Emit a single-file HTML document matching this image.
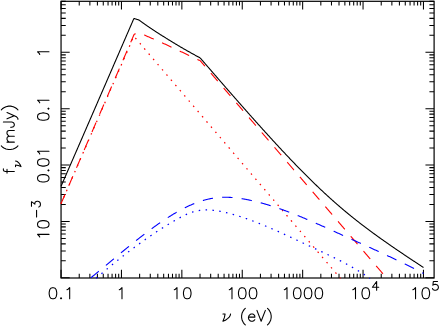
<!DOCTYPE html>
<html><head><meta charset="utf-8"><title>spectrum</title>
<style>
html,body{margin:0;padding:0;background:#fff;font-family:"Liberation Sans",sans-serif;}
svg{display:block}
</style></head>
<body>
<svg width="439" height="327" viewBox="0 0 439 327">
<rect x="0" y="0" width="439" height="327" fill="#fff"/>
<path d="M61.05,278.0 V269.70 M61.05,1.3 V9.60 M79.23,278.0 V273.70 M79.23,1.3 V5.60 M89.87,278.0 V273.70 M89.87,1.3 V5.60 M97.41,278.0 V273.70 M97.41,1.3 V5.60 M103.27,278.0 V273.70 M103.27,1.3 V5.60 M108.05,278.0 V273.70 M108.05,1.3 V5.60 M112.09,278.0 V273.70 M112.09,1.3 V5.60 M115.60,278.0 V273.70 M115.60,1.3 V5.60 M118.69,278.0 V273.70 M118.69,1.3 V5.60 M121.45,278.0 V269.70 M121.45,1.3 V9.60 M139.63,278.0 V273.70 M139.63,1.3 V5.60 M150.27,278.0 V273.70 M150.27,1.3 V5.60 M157.81,278.0 V273.70 M157.81,1.3 V5.60 M163.67,278.0 V273.70 M163.67,1.3 V5.60 M168.45,278.0 V273.70 M168.45,1.3 V5.60 M172.49,278.0 V273.70 M172.49,1.3 V5.60 M176.00,278.0 V273.70 M176.00,1.3 V5.60 M179.09,278.0 V273.70 M179.09,1.3 V5.60 M181.85,278.0 V269.70 M181.85,1.3 V9.60 M200.03,278.0 V273.70 M200.03,1.3 V5.60 M210.67,278.0 V273.70 M210.67,1.3 V5.60 M218.21,278.0 V273.70 M218.21,1.3 V5.60 M224.07,278.0 V273.70 M224.07,1.3 V5.60 M228.85,278.0 V273.70 M228.85,1.3 V5.60 M232.89,278.0 V273.70 M232.89,1.3 V5.60 M236.40,278.0 V273.70 M236.40,1.3 V5.60 M239.49,278.0 V273.70 M239.49,1.3 V5.60 M242.25,278.0 V269.70 M242.25,1.3 V9.60 M260.43,278.0 V273.70 M260.43,1.3 V5.60 M271.07,278.0 V273.70 M271.07,1.3 V5.60 M278.61,278.0 V273.70 M278.61,1.3 V5.60 M284.47,278.0 V273.70 M284.47,1.3 V5.60 M289.25,278.0 V273.70 M289.25,1.3 V5.60 M293.29,278.0 V273.70 M293.29,1.3 V5.60 M296.80,278.0 V273.70 M296.80,1.3 V5.60 M299.89,278.0 V273.70 M299.89,1.3 V5.60 M302.65,278.0 V269.70 M302.65,1.3 V9.60 M320.83,278.0 V273.70 M320.83,1.3 V5.60 M331.47,278.0 V273.70 M331.47,1.3 V5.60 M339.01,278.0 V273.70 M339.01,1.3 V5.60 M344.87,278.0 V273.70 M344.87,1.3 V5.60 M349.65,278.0 V273.70 M349.65,1.3 V5.60 M353.69,278.0 V273.70 M353.69,1.3 V5.60 M357.20,278.0 V273.70 M357.20,1.3 V5.60 M360.29,278.0 V273.70 M360.29,1.3 V5.60 M363.05,278.0 V269.70 M363.05,1.3 V9.60 M381.23,278.0 V273.70 M381.23,1.3 V5.60 M391.87,278.0 V273.70 M391.87,1.3 V5.60 M399.41,278.0 V273.70 M399.41,1.3 V5.60 M405.27,278.0 V273.70 M405.27,1.3 V5.60 M410.05,278.0 V273.70 M410.05,1.3 V5.60 M414.09,278.0 V273.70 M414.09,1.3 V5.60 M417.60,278.0 V273.70 M417.60,1.3 V5.60 M420.69,278.0 V273.70 M420.69,1.3 V5.60 M423.45,278.0 V269.70 M423.45,1.3 V9.60 M61.05,277.80 H69.70 M434.1,277.80 H425.45 M61.05,260.83 H65.75 M434.1,260.83 H429.40 M61.05,250.90 H65.75 M434.1,250.90 H429.40 M61.05,243.86 H65.75 M434.1,243.86 H429.40 M61.05,238.40 H65.75 M434.1,238.40 H429.40 M61.05,233.93 H65.75 M434.1,233.93 H429.40 M61.05,230.16 H65.75 M434.1,230.16 H429.40 M61.05,226.89 H65.75 M434.1,226.89 H429.40 M61.05,224.00 H65.75 M434.1,224.00 H429.40 M61.05,221.43 H69.70 M434.1,221.43 H425.45 M61.05,204.45 H65.75 M434.1,204.45 H429.40 M61.05,194.53 H65.75 M434.1,194.53 H429.40 M61.05,187.48 H65.75 M434.1,187.48 H429.40 M61.05,182.02 H65.75 M434.1,182.02 H429.40 M61.05,177.56 H65.75 M434.1,177.56 H429.40 M61.05,173.78 H65.75 M434.1,173.78 H429.40 M61.05,170.51 H65.75 M434.1,170.51 H429.40 M61.05,167.63 H65.75 M434.1,167.63 H429.40 M61.05,165.05 H69.70 M434.1,165.05 H425.45 M61.05,148.08 H65.75 M434.1,148.08 H429.40 M61.05,138.15 H65.75 M434.1,138.15 H429.40 M61.05,131.11 H65.75 M434.1,131.11 H429.40 M61.05,125.65 H65.75 M434.1,125.65 H429.40 M61.05,121.18 H65.75 M434.1,121.18 H429.40 M61.05,117.41 H65.75 M434.1,117.41 H429.40 M61.05,114.14 H65.75 M434.1,114.14 H429.40 M61.05,111.25 H65.75 M434.1,111.25 H429.40 M61.05,108.67 H69.70 M434.1,108.67 H425.45 M61.05,91.70 H65.75 M434.1,91.70 H429.40 M61.05,81.78 H65.75 M434.1,81.78 H429.40 M61.05,74.73 H65.75 M434.1,74.73 H429.40 M61.05,69.27 H65.75 M434.1,69.27 H429.40 M61.05,64.81 H65.75 M434.1,64.81 H429.40 M61.05,61.03 H65.75 M434.1,61.03 H429.40 M61.05,57.76 H65.75 M434.1,57.76 H429.40 M61.05,54.88 H65.75 M434.1,54.88 H429.40 M61.05,52.30 H69.70 M434.1,52.30 H425.45 M61.05,35.33 H65.75 M434.1,35.33 H429.40 M61.05,25.40 H65.75 M434.1,25.40 H429.40 M61.05,18.36 H65.75 M434.1,18.36 H429.40 M61.05,12.90 H65.75 M434.1,12.90 H429.40 M61.05,8.43 H65.75 M434.1,8.43 H429.40 M61.05,4.66 H65.75 M434.1,4.66 H429.40 M61.05,1.39 H65.75 M434.1,1.39 H429.40" stroke="#000" stroke-width="1.05" fill="none"/>
<rect x="61.05" y="1.3" width="373.05" height="276.70" stroke="#000" stroke-width="1.2" fill="none"/>
<path d="M61.00,186.35 L61.50,185.20 L62.00,184.06 L62.50,182.92 L63.00,181.77 L63.50,180.63 L64.00,179.49 L64.50,178.34 L65.00,177.20 L65.50,176.05 L66.00,174.91 L66.50,173.76 L67.00,172.61 L67.50,171.47 L68.00,170.32 L68.50,169.18 L69.00,168.03 L69.50,166.88 L70.00,165.73 L70.50,164.59 L71.00,163.44 L71.50,162.29 L72.00,161.14 L72.50,160.00 L73.00,158.85 L73.50,157.70 L74.00,156.55 L74.50,155.40 L75.00,154.25 L75.50,153.10 L76.00,151.96 L76.50,150.81 L77.00,149.66 L77.50,148.51 L78.00,147.36 L78.50,146.21 L79.00,145.06 L79.50,143.91 L80.00,142.76 L80.50,141.61 L81.00,140.46 L81.50,139.31 L82.00,138.16 L82.50,137.01 L83.00,135.85 L83.50,134.70 L84.00,133.55 L84.50,132.40 L85.00,131.25 L85.50,130.10 L86.00,128.95 L86.50,127.80 L87.00,126.65 L87.50,125.49 L88.00,124.34 L88.50,123.19 L89.00,122.04 L89.50,120.89 L90.00,119.73 L90.50,118.58 L91.00,117.43 L91.50,116.28 L92.00,115.13 L92.50,113.97 L93.00,112.82 L93.50,111.67 L94.00,110.52 L94.50,109.37 L95.00,108.21 L95.50,107.06 L96.00,105.91 L96.50,104.76 L97.00,103.60 L97.50,102.45 L98.00,101.30 L98.50,100.14 L99.00,98.99 L99.50,97.84 L100.00,96.69 L100.50,95.53 L101.00,94.38 L101.50,93.23 L102.00,92.08 L102.50,90.92 L103.00,89.77 L103.50,88.62 L104.00,87.46 L104.50,86.31 L105.00,85.16 L105.50,84.00 L106.00,82.85 L106.50,81.70 L107.00,80.54 L107.50,79.39 L108.00,78.24 L108.50,77.08 L109.00,75.93 L109.50,74.78 L110.00,73.62 L110.50,72.47 L111.00,71.32 L111.50,70.16 L112.00,69.01 L112.50,67.86 L113.00,66.70 L113.50,65.55 L114.00,64.40 L114.50,63.24 L115.00,62.09 L115.50,60.94 L116.00,59.78 L116.50,58.63 L117.00,57.48 L117.50,56.32 L118.00,55.17 L118.50,54.02 L119.00,52.86 L119.50,51.71 L120.00,50.55 L120.50,49.40 L121.00,48.25 L121.50,47.09 L122.00,45.94 L122.50,44.79 L123.00,43.63 L123.50,42.48 L124.00,41.33 L124.50,40.17 L125.00,39.02 L125.50,37.86 L126.00,36.71 L126.50,35.56 L127.00,34.40 L127.50,33.25 L128.00,32.10 L128.50,30.94 L129.00,29.79 L129.50,28.63 L130.00,27.48 L130.50,26.33 L131.00,25.17 L131.50,24.02 L132.00,22.87 L132.50,21.71 L133.00,20.56 L133.50,19.40 L134.00,18.55 L134.50,18.54 L135.00,18.73 L135.50,18.91 L136.00,19.09 L136.50,19.26 L137.00,19.43 L137.50,19.59 L138.00,19.75 L138.50,19.90 L139.00,20.05 L139.50,20.41 L140.00,20.78 L140.50,21.14 L141.00,21.50 L141.50,21.86 L142.00,22.22 L142.50,22.58 L143.00,22.94 L143.50,23.30 L144.00,23.65 L144.50,24.00 L145.00,24.36 L145.50,24.71 L146.00,25.06 L146.50,25.40 L147.00,25.75 L147.50,26.10 L148.00,26.44 L148.50,26.78 L149.00,27.13 L149.50,27.47 L150.00,27.81 L150.50,28.15 L151.00,28.48 L151.50,28.82 L152.00,29.15 L152.50,29.49 L153.00,29.82 L153.50,30.15 L154.00,30.48 L154.50,30.81 L155.00,31.14 L155.50,31.46 L156.00,31.79 L156.50,32.11 L157.00,32.44 L157.50,32.76 L158.00,33.08 L158.50,33.40 L159.00,33.72 L159.50,34.03 L160.00,34.35 L160.50,34.67 L161.00,34.98 L161.50,35.29 L162.00,35.61 L162.50,35.92 L163.00,36.23 L163.50,36.54 L164.00,36.84 L164.50,37.15 L165.00,37.46 L165.50,37.77 L166.00,38.09 L166.50,38.41 L167.00,38.72 L167.50,39.04 L168.00,39.35 L168.50,39.66 L169.00,39.97 L169.50,40.28 L170.00,40.59 L170.50,40.90 L171.00,41.21 L171.50,41.52 L172.00,41.82 L172.50,42.13 L173.00,42.43 L173.50,42.74 L174.00,43.04 L174.50,43.34 L175.00,43.64 L175.50,43.94 L176.00,44.24 L176.50,44.54 L177.00,44.84 L177.50,45.14 L178.00,45.44 L178.50,45.73 L179.00,46.03 L179.50,46.32 L180.00,46.61 L180.50,46.91 L181.00,47.20 L181.50,47.49 L182.00,47.78 L182.50,48.07 L183.00,48.36 L183.50,48.65 L184.00,48.94 L184.50,49.23 L185.00,49.51 L185.50,49.80 L186.00,50.09 L186.50,50.37 L187.00,50.66 L187.50,50.94 L188.00,51.22 L188.50,51.50 L189.00,51.79 L189.50,52.07 L190.00,52.35 L190.50,52.63 L191.00,52.91 L191.50,53.19 L192.00,53.46 L192.50,53.74 L193.00,54.02 L193.50,54.30 L194.00,54.57 L194.50,54.85 L195.00,55.12 L195.50,55.40 L196.00,55.67 L196.50,55.94 L197.00,56.22 L197.50,56.49 L198.00,56.76 L198.50,57.03 L199.00,57.30 L199.50,57.57 L200.00,57.84 L200.50,58.30 L201.00,58.88 L201.50,59.46 L202.00,60.04 L202.50,60.62 L203.00,61.20 L203.50,61.78 L204.00,62.36 L204.50,62.94 L205.00,63.51 L205.50,64.09 L206.00,64.67 L206.50,65.25 L207.00,65.83 L207.50,66.41 L208.00,66.99 L208.50,67.57 L209.00,68.14 L209.50,68.72 L210.00,69.30 L210.50,69.88 L211.00,70.46 L211.50,71.03 L212.00,71.61 L212.50,72.19 L213.00,72.77 L213.50,73.34 L214.00,73.92 L214.50,74.50 L215.00,75.08 L215.50,75.65 L216.00,76.23 L216.50,76.81 L217.00,77.38 L217.50,77.96 L218.00,78.54 L218.50,79.11 L219.00,79.69 L219.50,80.26 L220.00,80.84 L220.50,81.41 L221.00,81.99 L221.50,82.57 L222.00,83.14 L222.50,83.72 L223.00,84.29 L223.50,84.87 L224.00,85.44 L224.50,86.01 L225.00,86.59 L225.50,87.16 L226.00,87.74 L226.50,88.31 L227.00,88.88 L227.50,89.46 L228.00,90.03 L228.50,90.60 L229.00,91.18 L229.50,91.75 L230.00,92.32 L230.50,92.89 L231.00,93.47 L231.50,94.04 L232.00,94.61 L232.50,95.18 L233.00,95.75 L233.50,96.32 L234.00,96.90 L234.50,97.47 L235.00,98.04 L235.50,98.61 L236.00,99.18 L236.50,99.75 L237.00,100.32 L237.50,100.89 L238.00,101.46 L238.50,102.03 L239.00,102.60 L239.50,103.16 L240.00,103.73 L240.50,104.30 L241.00,104.87 L241.50,105.44 L242.00,106.00 L242.50,106.57 L243.00,107.14 L243.50,107.71 L244.00,108.27 L244.50,108.84 L245.00,109.40 L245.50,109.97 L246.00,110.54 L246.50,111.10 L247.00,111.67 L247.50,112.23 L248.00,112.79 L248.50,113.36 L249.00,113.92 L249.50,114.49 L250.00,115.05 L250.50,115.61 L251.00,116.17 L251.50,116.74 L252.00,117.30 L252.50,117.86 L253.00,118.42 L253.50,118.98 L254.00,119.54 L254.50,120.10 L255.00,120.66 L255.50,121.22 L256.00,121.78 L256.50,122.34 L257.00,122.90 L257.50,123.46 L258.00,124.02 L258.50,124.57 L259.00,125.13 L259.50,125.69 L260.00,126.24 L260.50,126.80 L261.00,127.36 L261.50,127.91 L262.00,128.47 L262.50,129.02 L263.00,129.58 L263.50,130.13 L264.00,130.68 L264.50,131.24 L265.00,131.79 L265.50,132.34 L266.00,132.89 L266.50,133.44 L267.00,133.99 L267.50,134.54 L268.00,135.09 L268.50,135.64 L269.00,136.19 L269.50,136.74 L270.00,137.29 L270.50,137.84 L271.00,138.38 L271.50,138.93 L272.00,139.48 L272.50,140.02 L273.00,140.57 L273.50,141.11 L274.00,141.66 L274.50,142.20 L275.00,142.74 L275.50,143.29 L276.00,143.83 L276.50,144.37 L277.00,144.91 L277.50,145.45 L278.00,145.99 L278.50,146.53 L279.00,147.07 L279.50,147.61 L280.00,148.15 L280.50,148.68 L281.00,149.22 L281.50,149.76 L282.00,150.29 L282.50,150.83 L283.00,151.36 L283.50,151.90 L284.00,152.43 L284.50,152.96 L285.00,153.49 L285.50,154.02 L286.00,154.56 L286.50,155.09 L287.00,155.61 L287.50,156.14 L288.00,156.67 L288.50,157.20 L289.00,157.73 L289.50,158.25 L290.00,158.78 L290.50,159.30 L291.00,159.83 L291.50,160.35 L292.00,160.87 L292.50,161.39 L293.00,161.92 L293.50,162.44 L294.00,162.96 L294.50,163.48 L295.00,163.99 L295.50,164.51 L296.00,165.03 L296.50,165.55 L297.00,166.06 L297.50,166.58 L298.00,167.09 L298.50,167.60 L299.00,168.12 L299.50,168.63 L300.00,169.14 L300.50,169.65 L301.00,170.16 L301.50,170.66 L302.00,171.17 L302.50,171.68 L303.00,172.19 L303.50,172.69 L304.00,173.19 L304.50,173.70 L305.00,174.20 L305.50,174.70 L306.00,175.20 L306.50,175.70 L307.00,176.20 L307.50,176.70 L308.00,177.20 L308.50,177.69 L309.00,178.19 L309.50,178.68 L310.00,179.18 L310.50,179.67 L311.00,180.16 L311.50,180.65 L312.00,181.14 L312.50,181.63 L313.00,182.12 L313.50,182.60 L314.00,183.09 L314.50,183.57 L315.00,184.06 L315.50,184.54 L316.00,185.02 L316.50,185.50 L317.00,185.98 L317.50,186.46 L318.00,186.94 L318.50,187.42 L319.00,187.89 L319.50,188.37 L320.00,188.84 L320.50,189.31 L321.00,189.78 L321.50,190.25 L322.00,190.72 L322.50,191.19 L323.00,191.66 L323.50,192.13 L324.00,192.59 L324.50,193.06 L325.00,193.52 L325.50,193.98 L326.00,194.44 L326.50,194.90 L327.00,195.36 L327.50,195.82 L328.00,196.27 L328.50,196.73 L329.00,197.18 L329.50,197.64 L330.00,198.09 L330.50,198.54 L331.00,198.99 L331.50,199.44 L332.00,199.89 L332.50,200.33 L333.00,200.78 L333.50,201.23 L334.00,201.67 L334.50,202.11 L335.00,202.55 L335.50,202.99 L336.00,203.43 L336.50,203.87 L337.00,204.31 L337.50,204.74 L338.00,205.17 L338.50,205.61 L339.00,206.04 L339.50,206.47 L340.00,206.90 L340.50,207.33 L341.00,207.76 L341.50,208.18 L342.00,208.61 L342.50,209.03 L343.00,209.46 L343.50,209.88 L344.00,210.30 L344.50,210.72 L345.00,211.14 L345.50,211.55 L346.00,211.97 L346.50,212.39 L347.00,212.80 L347.50,213.21 L348.00,213.63 L348.50,214.04 L349.00,214.45 L349.50,214.85 L350.00,215.26 L350.50,215.67 L351.00,216.07 L351.50,216.48 L352.00,216.88 L352.50,217.28 L353.00,217.68 L353.50,218.08 L354.00,218.48 L354.50,218.88 L355.00,219.28 L355.50,219.68 L356.00,220.07 L356.50,220.47 L357.00,220.86 L357.50,221.25 L358.00,221.64 L358.50,222.03 L359.00,222.42 L359.50,222.81 L360.00,223.20 L360.50,223.58 L361.00,223.97 L361.50,224.35 L362.00,224.74 L362.50,225.12 L363.00,225.50 L363.50,225.89 L364.00,226.27 L364.50,226.65 L365.00,227.02 L365.50,227.40 L366.00,227.78 L366.50,228.16 L367.00,228.53 L367.50,228.91 L368.00,229.28 L368.50,229.65 L369.00,230.03 L369.50,230.40 L370.00,230.77 L370.50,231.14 L371.00,231.51 L371.50,231.88 L372.00,232.24 L372.50,232.61 L373.00,232.98 L373.50,233.34 L374.00,233.71 L374.50,234.07 L375.00,234.43 L375.50,234.80 L376.00,235.16 L376.50,235.52 L377.00,235.88 L377.50,236.24 L378.00,236.60 L378.50,236.96 L379.00,237.32 L379.50,237.68 L380.00,238.03 L380.50,238.39 L381.00,238.75 L381.50,239.10 L382.00,239.46 L382.50,239.81 L383.00,240.16 L383.50,240.52 L384.00,240.87 L384.50,241.22 L385.00,241.57 L385.50,241.92 L386.00,242.27 L386.50,242.62 L387.00,242.97 L387.50,243.32 L388.00,243.67 L388.50,244.02 L389.00,244.37 L389.50,244.71 L390.00,245.06 L390.50,245.41 L391.00,245.75 L391.50,246.10 L392.00,246.44 L392.50,246.78 L393.00,247.13 L393.50,247.47 L394.00,247.81 L394.50,248.16 L395.00,248.50 L395.50,248.84 L396.00,249.18 L396.50,249.52 L397.00,249.86 L397.50,250.20 L398.00,250.54 L398.50,250.88 L399.00,251.22 L399.50,251.56 L400.00,251.90 L400.50,252.24 L401.00,252.57 L401.50,252.91 L402.00,253.25 L402.50,253.58 L403.00,253.92 L403.50,254.26 L404.00,254.59 L404.50,254.93 L405.00,255.26 L405.50,255.60 L406.00,255.93 L406.50,256.27 L407.00,256.60 L407.50,256.93 L408.00,257.27 L408.50,257.60 L409.00,257.93 L409.50,258.27 L410.00,258.60 L410.50,258.93 L411.00,259.26 L411.50,259.59 L412.00,259.92 L412.50,260.26 L413.00,260.59 L413.50,260.92 L414.00,261.25 L414.50,261.58 L415.00,261.91 L415.50,262.24 L416.00,262.57 L416.50,262.90 L417.00,263.23 L417.50,263.56 L418.00,263.89 L418.50,264.22 L419.00,264.55 L419.50,264.87 L420.00,265.20 L420.50,265.53 L421.00,265.86 L421.50,266.19 L422.00,266.52 L422.50,266.84 L423.00,267.17 L423.50,267.50" stroke="#000" stroke-width="1.1" fill="none" stroke-linejoin="miter"/>
<path d="M61.00,203.70 L61.50,202.54 L62.00,201.38 L62.50,200.23 L63.00,199.07 L63.50,197.91 L64.00,196.75 L64.50,195.60 L65.00,194.44 L65.50,193.28 L66.00,192.12 L66.50,190.96 L67.00,189.81 L67.50,188.65 L68.00,187.49 L68.50,186.33 L69.00,185.18 L69.50,184.02 L70.00,182.86 L70.50,181.70 L71.00,180.54 L71.50,179.39 L72.00,178.23 L72.50,177.07 L73.00,175.91 L73.50,174.76 L74.00,173.60 L74.50,172.44 L75.00,171.28 L75.50,170.12 L76.00,168.97 L76.50,167.81 L77.00,166.65 L77.50,165.49 L78.00,164.34 L78.50,163.18 L79.00,162.02 L79.50,160.86 L80.00,159.70 L80.50,158.55 L81.00,157.39 L81.50,156.23 L82.00,155.07 L82.50,153.92 L83.00,152.76 L83.50,151.60 L84.00,150.44 L84.50,149.28 L85.00,148.13 L85.50,146.97 L86.00,145.81 L86.50,144.65 L87.00,143.50 L87.50,142.34 L88.00,141.18 L88.50,140.02 L89.00,138.86 L89.50,137.71 L90.00,136.55 L90.50,135.39 L91.00,134.23 L91.50,133.07 L92.00,131.92 L92.50,130.76 L93.00,129.60 L93.50,128.44 L94.00,127.29 L94.50,126.13 L95.00,124.97 L95.50,123.81 L96.00,122.65 L96.50,121.50 L97.00,120.34 L97.50,119.18 L98.00,118.02 L98.50,116.87 L99.00,115.71 L99.50,114.55 L100.00,113.39 L100.50,112.23 L101.00,111.08 L101.50,109.92 L102.00,108.76 L102.50,107.60 L103.00,106.45 L103.50,105.29 L104.00,104.13 L104.50,102.97 L105.00,101.81 L105.50,100.66 L106.00,99.50 L106.50,98.34 L107.00,97.18 L107.50,96.03 L108.00,94.87 L108.50,93.71 L109.00,92.55 L109.50,91.39 L110.00,90.24 L110.50,89.08 L111.00,87.92 L111.50,86.76 L112.00,85.61 L112.50,84.45 L113.00,83.29 L113.50,82.13 L114.00,80.97 L114.50,79.82 L115.00,78.66 L115.50,77.50 L116.00,76.34 L116.50,75.19 L117.00,74.03 L117.50,72.87 L118.00,71.71 L118.50,70.55 L119.00,69.40 L119.50,68.24 L120.00,67.08 L120.50,65.92 L121.00,64.77 L121.50,63.61 L122.00,62.45 L122.50,61.29 L123.00,60.13 L123.50,58.98 L124.00,57.82 L124.50,56.66 L125.00,55.50 L125.50,54.35 L126.00,53.19 L126.50,52.03 L127.00,50.87 L127.50,49.71 L128.00,48.56 L128.50,47.40 L129.00,46.24 L129.50,45.08 L130.00,43.93 L130.50,42.77 L131.00,41.61 L131.50,40.45 L132.00,39.29 L132.50,38.14 L133.00,36.98 L133.50,35.82 L134.00,34.66 L134.20,34.20 L134.50,34.11 L135.00,33.95 L135.50,33.79 L136.00,33.64 L136.50,33.48 L137.00,33.33 L137.50,33.17 L138.00,33.01 L138.50,32.86 L139.00,32.70 L139.50,32.92 L140.00,33.14 L140.50,33.36 L141.00,33.58 L141.50,33.80 L142.00,34.02 L142.50,34.23 L143.00,34.45 L143.50,34.67 L144.00,34.89 L144.50,35.11 L145.00,35.33 L145.50,35.55 L146.00,35.77 L146.50,35.99 L147.00,36.21 L147.50,36.43 L148.00,36.65 L148.50,36.87 L149.00,37.08 L149.50,37.30 L150.00,37.52 L150.50,37.74 L151.00,37.96 L151.50,38.18 L152.00,38.40 L152.50,38.62 L153.00,38.84 L153.50,39.06 L154.00,39.28 L154.50,39.50 L155.00,39.72 L155.50,39.93 L156.00,40.15 L156.50,40.37 L157.00,40.59 L157.50,40.81 L158.00,41.03 L158.50,41.25 L159.00,41.47 L159.50,41.69 L160.00,41.91 L160.50,42.13 L161.00,42.35 L161.50,42.57 L162.00,42.78 L162.50,43.00 L163.00,43.22 L163.50,43.44 L164.00,43.66 L164.50,43.88 L165.00,44.10 L165.50,44.34 L166.00,44.57 L166.50,44.81 L167.00,45.04 L167.50,45.28 L168.00,45.51 L168.50,45.75 L169.00,45.99 L169.50,46.22 L170.00,46.46 L170.50,46.69 L171.00,46.93 L171.50,47.17 L172.00,47.40 L172.50,47.64 L173.00,47.87 L173.50,48.11 L174.00,48.34 L174.50,48.58 L175.00,48.82 L175.50,49.05 L176.00,49.29 L176.50,49.52 L177.00,49.76 L177.50,49.99 L178.00,50.23 L178.50,50.47 L179.00,50.70 L179.50,50.94 L180.00,51.17 L180.50,51.41 L181.00,51.65 L181.50,51.88 L182.00,52.12 L182.50,52.35 L183.00,52.59 L183.50,52.82 L184.00,53.06 L184.50,53.30 L185.00,53.53 L185.50,53.77 L186.00,54.00 L186.50,54.24 L187.00,54.48 L187.50,54.71 L188.00,54.95 L188.50,55.18 L189.00,55.42 L189.50,55.65 L190.00,55.89 L190.50,56.13 L191.00,56.36 L191.50,56.60 L192.00,56.83 L192.50,57.07 L193.00,57.30 L193.50,57.54 L194.00,57.78 L194.50,58.01 L195.00,58.25 L195.50,58.48 L196.00,58.72 L196.50,58.96 L197.00,59.19 L197.50,59.43 L198.00,59.66 L198.50,59.90 L199.00,60.13 L199.50,60.37 L200.00,60.61 L200.20,60.70 L200.50,61.05 L201.00,61.63 L201.50,62.22 L202.00,62.80 L202.50,63.38 L203.00,63.96 L203.50,64.55 L204.00,65.13 L204.50,65.71 L205.00,66.30 L205.50,66.88 L206.00,67.46 L206.50,68.05 L207.00,68.63 L207.50,69.21 L208.00,69.79 L208.50,70.38 L209.00,70.96 L209.50,71.54 L210.00,72.13 L210.50,72.71 L211.00,73.29 L211.50,73.88 L212.00,74.46 L212.50,75.04 L213.00,75.62 L213.50,76.21 L214.00,76.79 L214.50,77.37 L215.00,77.96 L215.50,78.54 L216.00,79.12 L216.50,79.71 L217.00,80.29 L217.50,80.87 L218.00,81.45 L218.50,82.04 L219.00,82.62 L219.50,83.20 L220.00,83.79 L220.50,84.37 L221.00,84.95 L221.50,85.54 L222.00,86.12 L222.50,86.70 L223.00,87.28 L223.50,87.87 L224.00,88.45 L224.50,89.03 L225.00,89.62 L225.50,90.20 L226.00,90.78 L226.50,91.37 L227.00,91.95 L227.50,92.53 L228.00,93.11 L228.50,93.70 L229.00,94.28 L229.50,94.86 L230.00,95.45 L230.50,96.03 L231.00,96.61 L231.50,97.20 L232.00,97.78 L232.50,98.36 L233.00,98.94 L233.50,99.53 L234.00,100.11 L234.50,100.69 L235.00,101.28 L235.50,101.86 L236.00,102.44 L236.50,103.03 L237.00,103.61 L237.50,104.19 L238.00,104.77 L238.50,105.36 L239.00,105.94 L239.50,106.52 L240.00,107.11 L240.50,107.69 L241.00,108.27 L241.50,108.86 L242.00,109.44 L242.50,110.02 L243.00,110.60 L243.50,111.19 L244.00,111.77 L244.50,112.35 L245.00,112.94 L245.50,113.52 L246.00,114.10 L246.50,114.69 L247.00,115.27 L247.50,115.85 L248.00,116.43 L248.50,117.02 L249.00,117.60 L249.50,118.18 L250.00,118.77 L250.50,119.35 L251.00,119.93 L251.50,120.52 L252.00,121.10 L252.50,121.68 L253.00,122.26 L253.50,122.85 L254.00,123.43 L254.50,124.01 L255.00,124.60 L255.50,125.18 L256.00,125.76 L256.50,126.35 L257.00,126.93 L257.50,127.51 L258.00,128.09 L258.50,128.68 L259.00,129.26 L259.50,129.84 L260.00,130.43 L260.50,131.01 L261.00,131.59 L261.50,132.18 L262.00,132.76 L262.50,133.34 L263.00,133.92 L263.50,134.51 L264.00,135.09 L264.50,135.67 L265.00,136.26 L265.50,136.84 L266.00,137.42 L266.50,138.01 L267.00,138.59 L267.50,139.17 L268.00,139.75 L268.50,140.34 L269.00,140.92 L269.50,141.50 L270.00,142.09 L270.50,142.67 L271.00,143.25 L271.50,143.84 L272.00,144.42 L272.50,145.00 L273.00,145.58 L273.50,146.17 L274.00,146.75 L274.50,147.33 L275.00,147.92 L275.50,148.50 L276.00,149.08 L276.50,149.67 L277.00,150.25 L277.50,150.83 L278.00,151.41 L278.50,152.00 L279.00,152.58 L279.50,153.16 L280.00,153.75 L280.50,154.33 L281.00,154.91 L281.50,155.50 L282.00,156.08 L282.50,156.66 L283.00,157.24 L283.50,157.83 L284.00,158.41 L284.50,158.99 L285.00,159.58 L285.50,160.16 L286.00,160.74 L286.50,161.33 L287.00,161.91 L287.50,162.49 L288.00,163.07 L288.50,163.66 L289.00,164.24 L289.50,164.82 L290.00,165.41 L290.50,165.99 L291.00,166.57 L291.50,167.16 L292.00,167.74 L292.50,168.32 L293.00,168.90 L293.50,169.49 L294.00,170.07 L294.50,170.65 L295.00,171.24 L295.50,171.82 L296.00,172.40 L296.50,172.99 L297.00,173.57 L297.50,174.15 L298.00,174.73 L298.50,175.32 L299.00,175.90 L299.50,176.48 L300.00,177.07 L300.50,177.65 L301.00,178.23 L301.50,178.82 L302.00,179.40 L302.50,179.98 L303.00,180.56 L303.50,181.15 L304.00,181.73 L304.50,182.31 L305.00,182.90 L305.50,183.48 L306.00,184.06 L306.50,184.65 L307.00,185.23 L307.50,185.81 L308.00,186.39 L308.50,186.98 L309.00,187.56 L309.50,188.14 L310.00,188.73 L310.50,189.31 L311.00,189.89 L311.50,190.48 L312.00,191.06 L312.50,191.64 L313.00,192.22 L313.50,192.81 L314.00,193.39 L314.50,193.97 L315.00,194.56 L315.50,195.14 L316.00,195.72 L316.50,196.31 L317.00,196.89 L317.50,197.47 L318.00,198.05 L318.50,198.64 L319.00,199.22 L319.50,199.80 L320.00,200.39 L320.50,200.97 L321.00,201.55 L321.50,202.14 L322.00,202.72 L322.50,203.30 L323.00,203.88 L323.50,204.47 L324.00,205.05 L324.50,205.63 L325.00,206.22 L325.50,206.80 L326.00,207.38 L326.50,207.97 L327.00,208.55 L327.50,209.13 L328.00,209.71 L328.50,210.30 L329.00,210.88 L329.50,211.46 L330.00,212.05 L330.50,212.63 L331.00,213.21 L331.50,213.80 L332.00,214.38 L332.50,214.96 L333.00,215.54 L333.50,216.13 L334.00,216.71 L334.50,217.29 L335.00,217.88 L335.50,218.46 L336.00,219.04 L336.50,219.63 L337.00,220.21 L337.50,220.79 L338.00,221.37 L338.50,221.96 L339.00,222.54 L339.50,223.12 L340.00,223.71 L340.50,224.29 L341.00,224.87 L341.50,225.46 L342.00,226.04 L342.50,226.62 L343.00,227.20 L343.50,227.79 L344.00,228.37 L344.50,228.95 L345.00,229.54 L345.50,230.12 L346.00,230.70 L346.50,231.29 L347.00,231.87 L347.50,232.45 L348.00,233.03 L348.50,233.62 L349.00,234.20 L349.50,234.78 L350.00,235.37 L350.50,235.95 L351.00,236.53 L351.50,237.12 L352.00,237.70 L352.50,238.28 L353.00,238.86 L353.50,239.45 L354.00,240.03 L354.50,240.61 L355.00,241.20 L355.50,241.78 L356.00,242.36 L356.50,242.95 L357.00,243.53 L357.50,244.11 L358.00,244.69 L358.50,245.28 L359.00,245.86 L359.50,246.44 L360.00,247.03 L360.50,247.61 L361.00,248.19 L361.50,248.78 L362.00,249.36 L362.50,249.94 L363.00,250.52 L363.50,251.11 L364.00,251.69 L364.50,252.27 L365.00,252.86 L365.50,253.44 L366.00,254.02 L366.50,254.61 L367.00,255.19 L367.50,255.77 L368.00,256.35 L368.50,256.94 L369.00,257.52 L369.50,258.10 L370.00,258.69 L370.50,259.27 L371.00,259.85 L371.50,260.44 L372.00,261.02 L372.50,261.60 L373.00,262.18 L373.50,262.77 L374.00,263.35 L374.50,263.93 L375.00,264.52 L375.50,265.10 L376.00,265.68 L376.50,266.27 L377.00,266.85 L377.50,267.43 L378.00,268.01 L378.50,268.60 L379.00,269.18 L379.50,269.76 L380.00,270.35 L380.50,270.93 L381.00,271.51 L381.50,272.10 L382.00,272.68 L382.50,273.26 L383.00,273.84 L383.50,274.43 L384.00,275.01 L384.50,275.59 L385.00,276.18 L385.50,276.76 L386.00,277.34 L386.50,277.93 L386.91,278.40" stroke="#f00" stroke-width="1.1" fill="none" stroke-dasharray="10.4 9.13" stroke-linejoin="round"/>
<path d="M61.00,203.70 L61.50,202.55 L62.00,201.40 L62.50,200.25 L63.00,199.10 L63.50,197.95 L64.00,196.80 L64.50,195.65 L65.00,194.50 L65.50,193.35 L66.00,192.20 L66.50,191.05 L67.00,189.90 L67.50,188.75 L68.00,187.60 L68.50,186.45 L69.00,185.30 L69.50,184.15 L70.00,183.00 L70.50,181.85 L71.00,180.70 L71.50,179.55 L72.00,178.40 L72.50,177.25 L73.00,176.10 L73.50,174.95 L74.00,173.80 L74.50,172.65 L75.00,171.50 L75.50,170.35 L76.00,169.20 L76.50,168.05 L77.00,166.90 L77.50,165.75 L78.00,164.60 L78.50,163.45 L79.00,162.30 L79.50,161.15 L80.00,160.00 L80.50,158.85 L81.00,157.70 L81.50,156.55 L82.00,155.40 L82.50,154.25 L83.00,153.10 L83.50,151.95 L84.00,150.80 L84.50,149.65 L85.00,148.50 L85.50,147.35 L86.00,146.20 L86.50,145.05 L87.00,143.90 L87.50,142.75 L88.00,141.60 L88.50,140.45 L89.00,139.30 L89.50,138.15 L90.00,137.00 L90.50,135.85 L91.00,134.70 L91.50,133.55 L92.00,132.40 L92.50,131.25 L93.00,130.10 L93.50,128.95 L94.00,127.80 L94.50,126.65 L95.00,125.50 L95.50,124.35 L96.00,123.20 L96.50,122.05 L97.00,120.90 L97.50,119.75 L98.00,118.60 L98.50,117.45 L99.00,116.30 L99.50,115.15 L100.00,114.00 L100.50,112.85 L101.00,111.70 L101.50,110.55 L102.00,109.40 L102.50,108.25 L103.00,107.10 L103.50,105.95 L104.00,104.80 L104.50,103.65 L105.00,102.50 L105.50,101.35 L106.00,100.20 L106.50,99.05 L107.00,97.90 L107.50,96.75 L108.00,95.60 L108.50,94.45 L109.00,93.30 L109.50,92.15 L110.00,91.00 L110.50,89.85 L111.00,88.70 L111.50,87.55 L112.00,86.40 L112.50,85.25 L113.00,84.10 L113.50,82.95 L114.00,81.80 L114.50,80.65 L115.00,79.50 L115.50,78.35 L116.00,77.20 L116.50,76.05 L117.00,74.90 L117.50,73.75 L118.00,72.60 L118.50,71.45 L119.00,70.30 L119.50,69.15 L120.00,68.00 L120.50,66.85 L121.00,65.70 L121.50,64.55 L122.00,63.40 L122.50,62.25 L123.00,61.10 L123.50,59.95 L124.00,58.80 L124.50,57.65 L125.00,56.50 L125.50,55.35 L126.00,54.20 L126.50,53.05 L127.00,51.90 L127.50,50.75 L128.00,49.60 L128.50,48.45 L129.00,47.30 L129.50,46.15 L130.00,45.00 L130.50,43.85 L131.00,42.70 L131.50,41.55 L132.00,40.40 L132.50,39.25 L133.00,38.10 L133.50,36.95 L133.80,36.26 L134.00,36.42 L134.50,37.00 L135.00,37.59 L135.50,38.17 L136.00,38.76 L136.50,39.35 L137.00,39.93 L137.50,40.52 L138.00,41.10 L138.50,41.69 L139.00,42.28 L139.50,42.86 L140.00,43.45 L140.50,44.03 L141.00,44.62 L141.50,45.21 L142.00,45.79 L142.50,46.38 L143.00,46.96 L143.50,47.55 L144.00,48.14 L144.50,48.72 L145.00,49.31 L145.50,49.89 L146.00,50.48 L146.50,51.07 L147.00,51.65 L147.50,52.24 L148.00,52.82 L148.50,53.41 L149.00,54.00 L149.50,54.58 L150.00,55.17 L150.50,55.75 L151.00,56.34 L151.50,56.93 L152.00,57.51 L152.50,58.10 L153.00,58.68 L153.50,59.27 L154.00,59.86 L154.50,60.44 L155.00,61.03 L155.50,61.61 L156.00,62.20 L156.50,62.79 L157.00,63.37 L157.50,63.96 L158.00,64.54 L158.50,65.13 L159.00,65.72 L159.50,66.30 L160.00,66.89 L160.50,67.47 L161.00,68.06 L161.50,68.65 L162.00,69.23 L162.50,69.82 L163.00,70.40 L163.50,70.99 L164.00,71.58 L164.50,72.16 L165.00,72.75 L165.50,73.33 L166.00,73.92 L166.50,74.51 L167.00,75.09 L167.50,75.68 L168.00,76.26 L168.50,76.85 L169.00,77.44 L169.50,78.02 L170.00,78.61 L170.50,79.19 L171.00,79.78 L171.50,80.37 L172.00,80.95 L172.50,81.54 L173.00,82.12 L173.50,82.71 L174.00,83.30 L174.50,83.88 L175.00,84.47 L175.50,85.05 L176.00,85.64 L176.50,86.23 L177.00,86.81 L177.50,87.40 L178.00,87.98 L178.50,88.57 L179.00,89.16 L179.50,89.74 L180.00,90.33 L180.50,90.91 L181.00,91.50 L181.50,92.09 L182.00,92.67 L182.50,93.26 L183.00,93.84 L183.50,94.43 L184.00,95.02 L184.50,95.60 L185.00,96.19 L185.50,96.77 L186.00,97.36 L186.50,97.95 L187.00,98.53 L187.50,99.12 L188.00,99.70 L188.50,100.29 L189.00,100.88 L189.50,101.46 L190.00,102.05 L190.50,102.63 L191.00,103.22 L191.50,103.81 L192.00,104.39 L192.50,104.98 L193.00,105.56 L193.50,106.15 L194.00,106.74 L194.50,107.32 L195.00,107.91 L195.50,108.49 L196.00,109.08 L196.50,109.67 L197.00,110.25 L197.50,110.84 L198.00,111.42 L198.50,112.01 L199.00,112.60 L199.50,113.18 L200.00,113.77 L200.50,114.35 L201.00,114.94 L201.50,115.53 L202.00,116.11 L202.50,116.70 L203.00,117.28 L203.50,117.87 L204.00,118.46 L204.50,119.04 L205.00,119.63 L205.50,120.21 L206.00,120.80 L206.50,121.39 L207.00,121.97 L207.50,122.56 L208.00,123.14 L208.50,123.73 L209.00,124.32 L209.50,124.90 L210.00,125.49 L210.50,126.07 L211.00,126.66 L211.50,127.25 L212.00,127.83 L212.50,128.42 L213.00,129.00 L213.50,129.59 L214.00,130.18 L214.50,130.76 L215.00,131.35 L215.50,131.93 L216.00,132.52 L216.50,133.11 L217.00,133.69 L217.50,134.28 L218.00,134.86 L218.50,135.45 L219.00,136.04 L219.50,136.62 L220.00,137.21 L220.50,137.79 L221.00,138.38 L221.50,138.97 L222.00,139.55 L222.50,140.14 L223.00,140.72 L223.50,141.31 L224.00,141.90 L224.50,142.48 L225.00,143.07 L225.50,143.65 L226.00,144.24 L226.50,144.83 L227.00,145.41 L227.50,146.00 L228.00,146.58 L228.50,147.17 L229.00,147.76 L229.50,148.34 L230.00,148.93 L230.50,149.51 L231.00,150.10 L231.50,150.69 L232.00,151.27 L232.50,151.86 L233.00,152.44 L233.50,153.03 L234.00,153.62 L234.50,154.20 L235.00,154.79 L235.50,155.37 L236.00,155.96 L236.50,156.55 L237.00,157.13 L237.50,157.72 L238.00,158.30 L238.50,158.89 L239.00,159.48 L239.50,160.06 L240.00,160.65 L240.50,161.23 L241.00,161.82 L241.50,162.41 L242.00,162.99 L242.50,163.58 L243.00,164.16 L243.50,164.75 L244.00,165.34 L244.50,165.92 L245.00,166.51 L245.50,167.09 L246.00,167.68 L246.50,168.27 L247.00,168.85 L247.50,169.44 L248.00,170.02 L248.50,170.61 L249.00,171.20 L249.50,171.78 L250.00,172.37 L250.50,172.95 L251.00,173.54 L251.50,174.13 L252.00,174.71 L252.50,175.30 L253.00,175.88 L253.50,176.47 L254.00,177.06 L254.50,177.64 L255.00,178.23 L255.50,178.81 L256.00,179.40 L256.50,179.99 L257.00,180.57 L257.50,181.16 L258.00,181.74 L258.50,182.33 L259.00,182.92 L259.50,183.50 L260.00,184.09 L260.50,184.67 L261.00,185.26 L261.50,185.85 L262.00,186.43 L262.50,187.02 L263.00,187.60 L263.50,188.19 L264.00,188.78 L264.50,189.36 L265.00,189.95 L265.50,190.53 L266.00,191.12 L266.50,191.71 L267.00,192.29 L267.50,192.88 L268.00,193.46 L268.50,194.05 L269.00,194.64 L269.50,195.22 L270.00,195.81 L270.50,196.39 L271.00,196.98 L271.50,197.57 L272.00,198.15 L272.50,198.74 L273.00,199.32 L273.50,199.91 L274.00,200.50 L274.50,201.08 L275.00,201.67 L275.50,202.25 L276.00,202.84 L276.50,203.43 L277.00,204.01 L277.50,204.60 L278.00,205.18 L278.50,205.77 L279.00,206.36 L279.50,206.94 L280.00,207.53 L280.50,208.11 L281.00,208.70 L281.50,209.29 L282.00,209.87 L282.50,210.46 L283.00,211.04 L283.50,211.63 L284.00,212.22 L284.50,212.80 L285.00,213.39 L285.50,213.97 L286.00,214.56 L286.50,215.15 L287.00,215.73 L287.50,216.32 L288.00,216.90 L288.50,217.49 L289.00,218.08 L289.50,218.66 L290.00,219.25 L290.50,219.83 L291.00,220.42 L291.50,221.01 L292.00,221.59 L292.50,222.18 L293.00,222.76 L293.50,223.35 L294.00,223.94 L294.50,224.52 L295.00,225.11 L295.50,225.69 L296.00,226.28 L296.50,226.87 L297.00,227.45 L297.50,228.04 L298.00,228.62 L298.50,229.21 L299.00,229.80 L299.50,230.38 L300.00,230.97 L300.50,231.55 L301.00,232.14 L301.50,232.73 L302.00,233.31 L302.50,233.90 L303.00,234.48 L303.50,235.07 L304.00,235.66 L304.50,236.24 L305.00,236.83 L305.50,237.41 L306.00,238.00 L306.50,238.59 L307.00,239.17 L307.50,239.76 L308.00,240.34 L308.50,240.93 L309.00,241.52 L309.50,242.10 L310.00,242.69 L310.50,243.27 L311.00,243.86 L311.50,244.45 L312.00,245.03 L312.50,245.62 L313.00,246.20 L313.50,246.79 L314.00,247.38 L314.50,247.96 L315.00,248.55 L315.50,249.13 L316.00,249.72 L316.50,250.31 L317.00,250.89 L317.50,251.48 L318.00,252.06 L318.50,252.65 L319.00,253.24 L319.50,253.82 L320.00,254.41 L320.50,254.99 L321.00,255.58 L321.50,256.17 L322.00,256.75 L322.50,257.34 L323.00,257.92 L323.50,258.51 L324.00,259.10 L324.50,259.68 L325.00,260.27 L325.50,260.85 L326.00,261.44 L326.50,262.03 L327.00,262.61 L327.50,263.20 L328.00,263.78 L328.50,264.37 L329.00,264.96 L329.50,265.54 L330.00,266.13 L330.50,266.71 L331.00,267.30 L331.50,267.89 L332.00,268.47 L332.50,269.06 L333.00,269.64 L333.50,270.23 L334.00,270.82 L334.50,271.40 L335.00,271.99 L335.50,272.57 L336.00,273.16 L336.50,273.75 L337.00,274.33 L337.50,274.92 L338.00,275.50 L338.50,276.09 L339.00,276.68 L339.50,277.26 L340.00,277.85 L340.47,278.40" stroke="#f00" stroke-width="1.25" fill="none" stroke-dasharray="1.5 5.35"/>
<path d="M90.11,278.40 L90.50,278.09 L91.00,277.68 L91.50,277.27 L92.00,276.86 L92.50,276.46 L93.00,276.05 L93.50,275.64 L94.00,275.23 L94.50,274.82 L95.00,274.41 L95.50,274.00 L96.00,273.59 L96.50,273.18 L97.00,272.76 L97.50,272.35 L98.00,271.94 L98.50,271.53 L99.00,271.11 L99.50,270.70 L100.00,270.29 L100.50,269.87 L101.00,269.46 L101.50,269.04 L102.00,268.63 L102.50,268.21 L103.00,267.80 L103.50,267.38 L104.00,266.97 L104.50,266.55 L105.00,266.14 L105.50,265.72 L106.00,265.31 L106.50,264.89 L107.00,264.47 L107.50,264.06 L108.00,263.64 L108.50,263.22 L109.00,262.81 L109.50,262.39 L110.00,261.97 L110.50,261.56 L111.00,261.14 L111.50,260.73 L112.00,260.31 L112.50,259.89 L113.00,259.48 L113.50,259.06 L114.00,258.65 L114.50,258.23 L115.00,257.81 L115.50,257.40 L116.00,256.98 L116.50,256.57 L117.00,256.15 L117.50,255.74 L118.00,255.32 L118.50,254.91 L119.00,254.50 L119.50,254.08 L120.00,253.67 L120.50,253.26 L121.00,252.84 L121.50,252.43 L122.00,252.02 L122.50,251.61 L123.00,251.20 L123.50,250.78 L124.00,250.37 L124.50,249.96 L125.00,249.55 L125.50,249.14 L126.00,248.74 L126.50,248.33 L127.00,247.92 L127.50,247.51 L128.00,247.11 L128.50,246.70 L129.00,246.29 L129.50,245.89 L130.00,245.48 L130.50,245.08 L131.00,244.68 L131.50,244.27 L132.00,243.87 L132.50,243.47 L133.00,243.07 L133.50,242.67 L134.00,242.27 L134.50,241.87 L135.00,241.47 L135.50,241.07 L136.00,240.68 L136.50,240.28 L137.00,239.89 L137.50,239.49 L138.00,239.10 L138.50,238.70 L139.00,238.31 L139.50,237.92 L140.00,237.53 L140.50,237.14 L141.00,236.75 L141.50,236.37 L142.00,235.98 L142.50,235.59 L143.00,235.21 L143.50,234.82 L144.00,234.44 L144.50,234.06 L145.00,233.68 L145.50,233.30 L146.00,232.92 L146.50,232.54 L147.00,232.16 L147.50,231.79 L148.00,231.41 L148.50,231.04 L149.00,230.67 L149.50,230.30 L150.00,229.93 L150.50,229.56 L151.00,229.19 L151.50,228.82 L152.00,228.46 L152.50,228.09 L153.00,227.73 L153.50,227.37 L154.00,227.01 L154.50,226.65 L155.00,226.29 L155.50,225.93 L156.00,225.58 L156.50,225.22 L157.00,224.87 L157.50,224.52 L158.00,224.17 L158.50,223.82 L159.00,223.47 L159.50,223.13 L160.00,222.78 L160.50,222.44 L161.00,222.10 L161.50,221.76 L162.00,221.42 L162.50,221.08 L163.00,220.75 L163.50,220.41 L164.00,220.08 L164.50,219.75 L165.00,219.42 L165.50,219.09 L166.00,218.77 L166.50,218.44 L167.00,218.12 L167.50,217.80 L168.00,217.48 L168.50,217.16 L169.00,216.84 L169.50,216.53 L170.00,216.22 L170.50,215.91 L171.00,215.60 L171.50,215.29 L172.00,214.98 L172.50,214.68 L173.00,214.38 L173.50,214.08 L174.00,213.78 L174.50,213.48 L175.00,213.19 L175.50,212.90 L176.00,212.61 L176.50,212.32 L177.00,212.03 L177.50,211.75 L178.00,211.46 L178.50,211.18 L179.00,210.91 L179.50,210.63 L180.00,210.36 L180.50,210.08 L181.00,209.82 L181.50,209.55 L182.00,209.28 L182.50,209.02 L183.00,208.76 L183.50,208.50 L184.00,208.25 L184.50,207.99 L185.00,207.74 L185.50,207.50 L186.00,207.25 L186.50,207.01 L187.00,206.76 L187.50,206.53 L188.00,206.29 L188.50,206.06 L189.00,205.83 L189.50,205.60 L190.00,205.37 L190.50,205.15 L191.00,204.93 L191.50,204.71 L192.00,204.50 L192.50,204.28 L193.00,204.07 L193.50,203.87 L194.00,203.66 L194.50,203.46 L195.00,203.26 L195.50,203.07 L196.00,202.88 L196.50,202.69 L197.00,202.50 L197.50,202.31 L198.00,202.13 L198.50,201.96 L199.00,201.78 L199.50,201.61 L200.00,201.44 L200.50,201.27 L201.00,201.11 L201.50,200.95 L202.00,200.80 L202.50,200.64 L203.00,200.49 L203.50,200.35 L204.00,200.20 L204.50,200.06 L205.00,199.92 L205.50,199.79 L206.00,199.66 L206.50,199.53 L207.00,199.41 L207.50,199.29 L208.00,199.17 L208.50,199.06 L209.00,198.95 L209.50,198.84 L210.00,198.74 L210.50,198.64 L211.00,198.54 L211.50,198.45 L212.00,198.36 L212.50,198.27 L213.00,198.19 L213.50,198.11 L214.00,198.04 L214.50,197.97 L215.00,197.90 L215.50,197.84 L216.00,197.78 L216.50,197.72 L217.00,197.66 L217.50,197.61 L218.00,197.57 L218.50,197.52 L219.00,197.48 L219.50,197.45 L220.00,197.41 L220.50,197.38 L221.00,197.35 L221.50,197.33 L222.00,197.31 L222.50,197.29 L223.00,197.28 L223.50,197.26 L224.00,197.26 L224.50,197.25 L225.00,197.25 L225.50,197.25 L226.00,197.25 L226.50,197.26 L227.00,197.26 L227.50,197.28 L228.00,197.29 L228.50,197.31 L229.00,197.33 L229.50,197.35 L230.00,197.37 L230.50,197.40 L231.00,197.43 L231.50,197.46 L232.00,197.50 L232.50,197.54 L233.00,197.58 L233.50,197.62 L234.00,197.66 L234.50,197.71 L235.00,197.76 L235.50,197.81 L236.00,197.87 L236.50,197.93 L237.00,197.98 L237.50,198.05 L238.00,198.11 L238.50,198.17 L239.00,198.24 L239.50,198.31 L240.00,198.38 L240.50,198.46 L241.00,198.53 L241.50,198.61 L242.00,198.69 L242.50,198.77 L243.00,198.85 L243.50,198.94 L244.00,199.03 L244.50,199.12 L245.00,199.21 L245.50,199.30 L246.00,199.39 L246.50,199.49 L247.00,199.59 L247.50,199.68 L248.00,199.79 L248.50,199.89 L249.00,199.99 L249.50,200.10 L250.00,200.20 L250.50,200.31 L251.00,200.42 L251.50,200.53 L252.00,200.64 L252.50,200.76 L253.00,200.87 L253.50,200.99 L254.00,201.11 L254.50,201.22 L255.00,201.34 L255.50,201.47 L256.00,201.59 L256.50,201.71 L257.00,201.84 L257.50,201.96 L258.00,202.09 L258.50,202.22 L259.00,202.35 L259.50,202.48 L260.00,202.61 L260.50,202.75 L261.00,202.88 L261.50,203.02 L262.00,203.15 L262.50,203.29 L263.00,203.43 L263.50,203.57 L264.00,203.72 L264.50,203.86 L265.00,204.00 L265.50,204.15 L266.00,204.29 L266.50,204.44 L267.00,204.59 L267.50,204.74 L268.00,204.89 L268.50,205.04 L269.00,205.20 L269.50,205.35 L270.00,205.50 L270.50,205.66 L271.00,205.82 L271.50,205.98 L272.00,206.13 L272.50,206.30 L273.00,206.46 L273.50,206.62 L274.00,206.78 L274.50,206.95 L275.00,207.11 L275.50,207.28 L276.00,207.44 L276.50,207.61 L277.00,207.78 L277.50,207.95 L278.00,208.12 L278.50,208.29 L279.00,208.47 L279.50,208.64 L280.00,208.82 L280.50,208.99 L281.00,209.17 L281.50,209.34 L282.00,209.52 L282.50,209.70 L283.00,209.88 L283.50,210.06 L284.00,210.24 L284.50,210.43 L285.00,210.61 L285.50,210.79 L286.00,210.98 L286.50,211.16 L287.00,211.35 L287.50,211.54 L288.00,211.72 L288.50,211.91 L289.00,212.10 L289.50,212.29 L290.00,212.48 L290.50,212.68 L291.00,212.87 L291.50,213.06 L292.00,213.26 L292.50,213.45 L293.00,213.65 L293.50,213.84 L294.00,214.04 L294.50,214.24 L295.00,214.43 L295.50,214.63 L296.00,214.83 L296.50,215.03 L297.00,215.23 L297.50,215.43 L298.00,215.64 L298.50,215.84 L299.00,216.04 L299.50,216.25 L300.00,216.45 L300.50,216.65 L301.00,216.86 L301.50,217.07 L302.00,217.27 L302.50,217.48 L303.00,217.69 L303.50,217.90 L304.00,218.10 L304.50,218.31 L305.00,218.52 L305.50,218.73 L306.00,218.95 L306.50,219.16 L307.00,219.37 L307.50,219.58 L308.00,219.79 L308.50,220.01 L309.00,220.22 L309.50,220.43 L310.00,220.65 L310.50,220.86 L311.00,221.08 L311.50,221.30 L312.00,221.51 L312.50,221.73 L313.00,221.95 L313.50,222.16 L314.00,222.38 L314.50,222.60 L315.00,222.82 L315.50,223.04 L316.00,223.26 L316.50,223.48 L317.00,223.70 L317.50,223.92 L318.00,224.14 L318.50,224.36 L319.00,224.58 L319.50,224.80 L320.00,225.02 L320.50,225.24 L321.00,225.47 L321.50,225.69 L322.00,225.91 L322.50,226.14 L323.00,226.36 L323.50,226.58 L324.00,226.81 L324.50,227.03 L325.00,227.25 L325.50,227.48 L326.00,227.70 L326.50,227.93 L327.00,228.15 L327.50,228.38 L328.00,228.60 L328.50,228.83 L329.00,229.05 L329.50,229.28 L330.00,229.51 L330.50,229.73 L331.00,229.96 L331.50,230.18 L332.00,230.41 L332.50,230.64 L333.00,230.86 L333.50,231.09 L334.00,231.32 L334.50,231.54 L335.00,231.77 L335.50,232.00 L336.00,232.22 L336.50,232.45 L337.00,232.68 L337.50,232.91 L338.00,233.13 L338.50,233.36 L339.00,233.59 L339.50,233.81 L340.00,234.04 L340.50,234.27 L341.00,234.49 L341.50,234.72 L342.00,234.95 L342.50,235.17 L343.00,235.40 L343.50,235.63 L344.00,235.85 L344.50,236.08 L345.00,236.31 L345.50,236.53 L346.00,236.76 L346.50,236.98 L347.00,237.21 L347.50,237.44 L348.00,237.66 L348.50,237.89 L349.00,238.11 L349.50,238.34 L350.00,238.57 L350.50,238.79 L351.00,239.02 L351.50,239.24 L352.00,239.47 L352.50,239.70 L353.00,239.92 L353.50,240.15 L354.00,240.37 L354.50,240.60 L355.00,240.82 L355.50,241.05 L356.00,241.27 L356.50,241.50 L357.00,241.73 L357.50,241.95 L358.00,242.18 L358.50,242.40 L359.00,242.63 L359.50,242.86 L360.00,243.08 L360.50,243.31 L361.00,243.53 L361.50,243.76 L362.00,243.99 L362.50,244.21 L363.00,244.44 L363.50,244.66 L364.00,244.89 L364.50,245.12 L365.00,245.34 L365.50,245.57 L366.00,245.80 L366.50,246.02 L367.00,246.25 L367.50,246.48 L368.00,246.70 L368.50,246.93 L369.00,247.16 L369.50,247.39 L370.00,247.61 L370.50,247.84 L371.00,248.07 L371.50,248.30 L372.00,248.52 L372.50,248.75 L373.00,248.98 L373.50,249.21 L374.00,249.44 L374.50,249.67 L375.00,249.89 L375.50,250.12 L376.00,250.35 L376.50,250.58 L377.00,250.81 L377.50,251.04 L378.00,251.27 L378.50,251.50 L379.00,251.73 L379.50,251.96 L380.00,252.19 L380.50,252.42 L381.00,252.65 L381.50,252.89 L382.00,253.12 L382.50,253.35 L383.00,253.58 L383.50,253.81 L384.00,254.04 L384.50,254.28 L385.00,254.51 L385.50,254.74 L386.00,254.97 L386.50,255.21 L387.00,255.44 L387.50,255.68 L388.00,255.91 L388.50,256.14 L389.00,256.38 L389.50,256.61 L390.00,256.85 L390.50,257.08 L391.00,257.32 L391.50,257.56 L392.00,257.79 L392.50,258.03 L393.00,258.27 L393.50,258.50 L394.00,258.74 L394.50,258.98 L395.00,259.22 L395.50,259.45 L396.00,259.69 L396.50,259.93 L397.00,260.17 L397.50,260.41 L398.00,260.65 L398.50,260.89 L399.00,261.13 L399.50,261.37 L400.00,261.61 L400.50,261.85 L401.00,262.10 L401.50,262.34 L402.00,262.58 L402.50,262.82 L403.00,263.07 L403.50,263.31 L404.00,263.55 L404.50,263.80 L405.00,264.04 L405.50,264.29 L406.00,264.53 L406.50,264.78 L407.00,265.03 L407.50,265.27 L408.00,265.52 L408.50,265.77 L409.00,266.02 L409.50,266.26 L410.00,266.51 L410.50,266.76 L411.00,267.01 L411.50,267.26 L412.00,267.51 L412.50,267.76 L413.00,268.01 L413.50,268.27 L414.00,268.52 L414.50,268.77 L415.00,269.02 L415.50,269.28 L416.00,269.53 L416.50,269.78 L417.00,270.04 L417.50,270.29 L418.00,270.55 L418.50,270.81 L419.00,271.06 L419.50,271.32 L420.00,271.58 L420.50,271.84 L421.00,272.10 L421.50,272.36 L422.00,272.61 L422.50,272.88 L423.00,273.14 L423.50,273.40" stroke="#00f" stroke-width="1.1" fill="none" stroke-dasharray="10.4 9.17" stroke-dashoffset="-0.86"/>
<path d="M96.07,278.40 L96.50,278.02 L97.00,277.59 L97.50,277.15 L98.00,276.72 L98.50,276.29 L99.00,275.85 L99.50,275.42 L100.00,274.99 L100.50,274.56 L101.00,274.13 L101.50,273.70 L102.00,273.27 L102.50,272.84 L103.00,272.42 L103.50,271.99 L104.00,271.57 L104.50,271.14 L105.00,270.72 L105.50,270.30 L106.00,269.88 L106.50,269.46 L107.00,269.04 L107.50,268.62 L108.00,268.20 L108.50,267.78 L109.00,267.37 L109.50,266.95 L110.00,266.54 L110.50,266.12 L111.00,265.71 L111.50,265.30 L112.00,264.89 L112.50,264.48 L113.00,264.07 L113.50,263.66 L114.00,263.25 L114.50,262.85 L115.00,262.44 L115.50,262.03 L116.00,261.63 L116.50,261.23 L117.00,260.82 L117.50,260.42 L118.00,260.02 L118.50,259.62 L119.00,259.22 L119.50,258.82 L120.00,258.43 L120.50,258.03 L121.00,257.63 L121.50,257.24 L122.00,256.85 L122.50,256.45 L123.00,256.06 L123.50,255.67 L124.00,255.28 L124.50,254.89 L125.00,254.50 L125.50,254.11 L126.00,253.73 L126.50,253.34 L127.00,252.96 L127.50,252.57 L128.00,252.19 L128.50,251.81 L129.00,251.42 L129.50,251.04 L130.00,250.66 L130.50,250.29 L131.00,249.91 L131.50,249.53 L132.00,249.15 L132.50,248.78 L133.00,248.41 L133.50,248.03 L134.00,247.66 L134.50,247.29 L135.00,246.92 L135.50,246.55 L136.00,246.18 L136.50,245.81 L137.00,245.44 L137.50,245.08 L138.00,244.71 L138.50,244.35 L139.00,243.98 L139.50,243.62 L140.00,243.26 L140.50,242.90 L141.00,242.54 L141.50,242.18 L142.00,241.82 L142.50,241.46 L143.00,241.11 L143.50,240.75 L144.00,240.40 L144.50,240.04 L145.00,239.69 L145.50,239.34 L146.00,238.99 L146.50,238.64 L147.00,238.29 L147.50,237.94 L148.00,237.60 L148.50,237.25 L149.00,236.91 L149.50,236.56 L150.00,236.22 L150.50,235.88 L151.00,235.53 L151.50,235.19 L152.00,234.85 L152.50,234.52 L153.00,234.18 L153.50,233.84 L154.00,233.51 L154.50,233.17 L155.00,232.84 L155.50,232.50 L156.00,232.17 L156.50,231.84 L157.00,231.51 L157.50,231.18 L158.00,230.85 L158.50,230.53 L159.00,230.20 L159.50,229.87 L160.00,229.55 L160.50,229.23 L161.00,228.90 L161.50,228.58 L162.00,228.26 L162.50,227.94 L163.00,227.62 L163.50,227.30 L164.00,226.99 L164.50,226.67 L165.00,226.36 L165.50,226.04 L166.00,225.73 L166.50,225.42 L167.00,225.11 L167.50,224.80 L168.00,224.50 L168.50,224.19 L169.00,223.89 L169.50,223.58 L170.00,223.28 L170.50,222.98 L171.00,222.68 L171.50,222.38 L172.00,222.09 L172.50,221.79 L173.00,221.50 L173.50,221.21 L174.00,220.92 L174.50,220.63 L175.00,220.35 L175.50,220.07 L176.00,219.78 L176.50,219.50 L177.00,219.22 L177.50,218.95 L178.00,218.67 L178.50,218.40 L179.00,218.13 L179.50,217.86 L180.00,217.59 L180.50,217.33 L181.00,217.07 L181.50,216.81 L182.00,216.55 L182.50,216.29 L183.00,216.04 L183.50,215.79 L184.00,215.55 L184.50,215.31 L185.00,215.07 L185.50,214.83 L186.00,214.60 L186.50,214.38 L187.00,214.15 L187.50,213.94 L188.00,213.72 L188.50,213.51 L189.00,213.31 L189.50,213.11 L190.00,212.92 L190.50,212.73 L191.00,212.55 L191.50,212.38 L192.00,212.21 L192.50,212.05 L193.00,211.89 L193.50,211.74 L194.00,211.60 L194.50,211.46 L195.00,211.33 L195.50,211.20 L196.00,211.09 L196.50,210.98 L197.00,210.87 L197.50,210.77 L198.00,210.68 L198.50,210.59 L199.00,210.51 L199.50,210.43 L200.00,210.36 L200.50,210.30 L201.00,210.24 L201.50,210.18 L202.00,210.14 L202.50,210.09 L203.00,210.05 L203.50,210.02 L204.00,209.99 L204.50,209.97 L205.00,209.95 L205.50,209.94 L206.00,209.93 L206.50,209.93 L207.00,209.93 L207.50,209.93 L208.00,209.94 L208.50,209.96 L209.00,209.98 L209.50,210.00 L210.00,210.03 L210.50,210.06 L211.00,210.09 L211.50,210.13 L212.00,210.17 L212.50,210.22 L213.00,210.27 L213.50,210.32 L214.00,210.38 L214.50,210.44 L215.00,210.50 L215.50,210.57 L216.00,210.64 L216.50,210.71 L217.00,210.79 L217.50,210.87 L218.00,210.95 L218.50,211.04 L219.00,211.12 L219.50,211.22 L220.00,211.31 L220.50,211.40 L221.00,211.50 L221.50,211.60 L222.00,211.71 L222.50,211.81 L223.00,211.92 L223.50,212.03 L224.00,212.14 L224.50,212.25 L225.00,212.37 L225.50,212.48 L226.00,212.60 L226.50,212.72 L227.00,212.84 L227.50,212.97 L228.00,213.09 L228.50,213.22 L229.00,213.34 L229.50,213.47 L230.00,213.60 L230.50,213.74 L231.00,213.87 L231.50,214.00 L232.00,214.14 L232.50,214.28 L233.00,214.42 L233.50,214.56 L234.00,214.70 L234.50,214.84 L235.00,214.99 L235.50,215.14 L236.00,215.28 L236.50,215.43 L237.00,215.58 L237.50,215.73 L238.00,215.89 L238.50,216.04 L239.00,216.20 L239.50,216.35 L240.00,216.51 L240.50,216.67 L241.00,216.83 L241.50,216.99 L242.00,217.16 L242.50,217.32 L243.00,217.49 L243.50,217.65 L244.00,217.82 L244.50,217.99 L245.00,218.16 L245.50,218.33 L246.00,218.50 L246.50,218.68 L247.00,218.85 L247.50,219.03 L248.00,219.20 L248.50,219.38 L249.00,219.56 L249.50,219.74 L250.00,219.92 L250.50,220.10 L251.00,220.29 L251.50,220.47 L252.00,220.66 L252.50,220.84 L253.00,221.03 L253.50,221.22 L254.00,221.41 L254.50,221.60 L255.00,221.79 L255.50,221.98 L256.00,222.18 L256.50,222.37 L257.00,222.56 L257.50,222.76 L258.00,222.96 L258.50,223.15 L259.00,223.35 L259.50,223.55 L260.00,223.75 L260.50,223.95 L261.00,224.16 L261.50,224.36 L262.00,224.56 L262.50,224.77 L263.00,224.97 L263.50,225.18 L264.00,225.38 L264.50,225.59 L265.00,225.80 L265.50,226.01 L266.00,226.22 L266.50,226.43 L267.00,226.64 L267.50,226.85 L268.00,227.06 L268.50,227.28 L269.00,227.49 L269.50,227.70 L270.00,227.92 L270.50,228.14 L271.00,228.35 L271.50,228.57 L272.00,228.79 L272.50,229.00 L273.00,229.22 L273.50,229.44 L274.00,229.66 L274.50,229.88 L275.00,230.10 L275.50,230.33 L276.00,230.55 L276.50,230.77 L277.00,230.99 L277.50,231.22 L278.00,231.44 L278.50,231.66 L279.00,231.89 L279.50,232.11 L280.00,232.34 L280.50,232.57 L281.00,232.79 L281.50,233.02 L282.00,233.25 L282.50,233.48 L283.00,233.70 L283.50,233.93 L284.00,234.16 L284.50,234.39 L285.00,234.62 L285.50,234.85 L286.00,235.08 L286.50,235.31 L287.00,235.54 L287.50,235.77 L288.00,236.00 L288.50,236.23 L289.00,236.47 L289.50,236.70 L290.00,236.93 L290.50,237.16 L291.00,237.39 L291.50,237.63 L292.00,237.86 L292.50,238.09 L293.00,238.33 L293.50,238.56 L294.00,238.79 L294.50,239.03 L295.00,239.26 L295.50,239.50 L296.00,239.73 L296.50,239.96 L297.00,240.20 L297.50,240.43 L298.00,240.67 L298.50,240.90 L299.00,241.14 L299.50,241.37 L300.00,241.60 L300.50,241.84 L301.00,242.07 L301.50,242.31 L302.00,242.54 L302.50,242.78 L303.00,243.01 L303.50,243.24 L304.00,243.48 L304.50,243.71 L305.00,243.95 L305.50,244.18 L306.00,244.41 L306.50,244.65 L307.00,244.88 L307.50,245.12 L308.00,245.35 L308.50,245.58 L309.00,245.81 L309.50,246.05 L310.00,246.28 L310.50,246.51 L311.00,246.75 L311.50,246.98 L312.00,247.21 L312.50,247.44 L313.00,247.67 L313.50,247.91 L314.00,248.14 L314.50,248.37 L315.00,248.60 L315.50,248.83 L316.00,249.07 L316.50,249.30 L317.00,249.53 L317.50,249.76 L318.00,249.99 L318.50,250.23 L319.00,250.46 L319.50,250.69 L320.00,250.93 L320.50,251.16 L321.00,251.39 L321.50,251.63 L322.00,251.86 L322.50,252.10 L323.00,252.33 L323.50,252.57 L324.00,252.80 L324.50,253.04 L325.00,253.27 L325.50,253.51 L326.00,253.75 L326.50,253.99 L327.00,254.22 L327.50,254.46 L328.00,254.70 L328.50,254.94 L329.00,255.18 L329.50,255.42 L330.00,255.66 L330.50,255.90 L331.00,256.15 L331.50,256.39 L332.00,256.63 L332.50,256.88 L333.00,257.12 L333.50,257.37 L334.00,257.61 L334.50,257.86 L335.00,258.11 L335.50,258.36 L336.00,258.61 L336.50,258.86 L337.00,259.11 L337.50,259.36 L338.00,259.61 L338.50,259.87 L339.00,260.12 L339.50,260.37 L340.00,260.63 L340.50,260.89 L341.00,261.15 L341.50,261.41 L342.00,261.67 L342.50,261.93 L343.00,262.19 L343.50,262.45 L344.00,262.72 L344.50,262.98 L345.00,263.25 L345.50,263.52 L346.00,263.79 L346.50,264.06 L347.00,264.33 L347.50,264.60 L348.00,264.87 L348.50,265.15 L349.00,265.42 L349.50,265.70 L350.00,265.98 L350.50,266.26 L351.00,266.54 L351.50,266.83 L352.00,267.11 L352.50,267.40 L353.00,267.68 L353.50,267.97 L354.00,268.26 L354.50,268.55 L355.00,268.84 L355.50,269.14 L356.00,269.43 L356.50,269.73 L357.00,270.03 L357.50,270.33 L358.00,270.63 L358.50,270.94 L359.00,271.24 L359.50,271.55 L360.00,271.86 L360.50,272.17 L361.00,272.48 L361.50,272.79 L362.00,273.11 L362.50,273.43 L363.00,273.74 L363.50,274.06 L364.00,274.39 L364.50,274.71 L365.00,275.04 L365.50,275.37 L366.00,275.70 L366.50,276.03 L367.00,276.36 L367.50,276.70 L368.00,277.03 L368.50,277.37 L369.00,277.72 L369.50,278.06 L370.00,278.40" stroke="#00f" stroke-width="1.25" fill="none" stroke-dasharray="1.5 5.375" stroke-dashoffset="-0.2"/>
<g transform="translate(47.55,298.80) scale(0.54,0.53)"><path d="M9.00,-21.00 L6.00,-20.00 L4.00,-17.00 L3.00,-12.00 L3.00,-9.00 L4.00,-4.00 L6.00,-1.00 L9.00,-0.00 L11.00,-0.00 L14.00,-1.00 L16.00,-4.00 L17.00,-9.00 L17.00,-12.00 L16.00,-17.00 L14.00,-20.00 L11.00,-21.00 L9.00,-21.00 M25.00,-2.00 L24.00,-1.00 L25.00,-0.00 L26.00,-1.00 L25.00,-2.00 M36.00,-17.00 L38.00,-18.00 L41.00,-21.00 L41.00,-0.00" stroke="#000" stroke-width="1.08" vector-effect="non-scaling-stroke" fill="none" stroke-linecap="round" stroke-linejoin="round"/></g>
<g transform="translate(116.05,298.80) scale(0.54,0.53)"><path d="M6.00,-17.00 L8.00,-18.00 L11.00,-21.00 L11.00,-0.00" stroke="#000" stroke-width="1.08" vector-effect="non-scaling-stroke" fill="none" stroke-linecap="round" stroke-linejoin="round"/></g>
<g transform="translate(171.05,298.80) scale(0.54,0.53)"><path d="M6.00,-17.00 L8.00,-18.00 L11.00,-21.00 L11.00,-0.00 M29.00,-21.00 L26.00,-20.00 L24.00,-17.00 L23.00,-12.00 L23.00,-9.00 L24.00,-4.00 L26.00,-1.00 L29.00,-0.00 L31.00,-0.00 L34.00,-1.00 L36.00,-4.00 L37.00,-9.00 L37.00,-12.00 L36.00,-17.00 L34.00,-20.00 L31.00,-21.00 L29.00,-21.00" stroke="#000" stroke-width="1.08" vector-effect="non-scaling-stroke" fill="none" stroke-linecap="round" stroke-linejoin="round"/></g>
<g transform="translate(226.05,298.80) scale(0.54,0.53)"><path d="M6.00,-17.00 L8.00,-18.00 L11.00,-21.00 L11.00,-0.00 M29.00,-21.00 L26.00,-20.00 L24.00,-17.00 L23.00,-12.00 L23.00,-9.00 L24.00,-4.00 L26.00,-1.00 L29.00,-0.00 L31.00,-0.00 L34.00,-1.00 L36.00,-4.00 L37.00,-9.00 L37.00,-12.00 L36.00,-17.00 L34.00,-20.00 L31.00,-21.00 L29.00,-21.00 M49.00,-21.00 L46.00,-20.00 L44.00,-17.00 L43.00,-12.00 L43.00,-9.00 L44.00,-4.00 L46.00,-1.00 L49.00,-0.00 L51.00,-0.00 L54.00,-1.00 L56.00,-4.00 L57.00,-9.00 L57.00,-12.00 L56.00,-17.00 L54.00,-20.00 L51.00,-21.00 L49.00,-21.00" stroke="#000" stroke-width="1.08" vector-effect="non-scaling-stroke" fill="none" stroke-linecap="round" stroke-linejoin="round"/></g>
<g transform="translate(281.05,298.80) scale(0.54,0.53)"><path d="M6.00,-17.00 L8.00,-18.00 L11.00,-21.00 L11.00,-0.00 M29.00,-21.00 L26.00,-20.00 L24.00,-17.00 L23.00,-12.00 L23.00,-9.00 L24.00,-4.00 L26.00,-1.00 L29.00,-0.00 L31.00,-0.00 L34.00,-1.00 L36.00,-4.00 L37.00,-9.00 L37.00,-12.00 L36.00,-17.00 L34.00,-20.00 L31.00,-21.00 L29.00,-21.00 M49.00,-21.00 L46.00,-20.00 L44.00,-17.00 L43.00,-12.00 L43.00,-9.00 L44.00,-4.00 L46.00,-1.00 L49.00,-0.00 L51.00,-0.00 L54.00,-1.00 L56.00,-4.00 L57.00,-9.00 L57.00,-12.00 L56.00,-17.00 L54.00,-20.00 L51.00,-21.00 L49.00,-21.00 M69.00,-21.00 L66.00,-20.00 L64.00,-17.00 L63.00,-12.00 L63.00,-9.00 L64.00,-4.00 L66.00,-1.00 L69.00,-0.00 L71.00,-0.00 L74.00,-1.00 L76.00,-4.00 L77.00,-9.00 L77.00,-12.00 L76.00,-17.00 L74.00,-20.00 L71.00,-21.00 L69.00,-21.00" stroke="#000" stroke-width="1.08" vector-effect="non-scaling-stroke" fill="none" stroke-linecap="round" stroke-linejoin="round"/></g>
<g transform="translate(349.56,298.80) scale(0.54,0.53)"><path d="M6.00,-17.00 L8.00,-18.00 L11.00,-21.00 L11.00,-0.00 M29.00,-21.00 L26.00,-20.00 L24.00,-17.00 L23.00,-12.00 L23.00,-9.00 L24.00,-4.00 L26.00,-1.00 L29.00,-0.00 L31.00,-0.00 L34.00,-1.00 L36.00,-4.00 L37.00,-9.00 L37.00,-12.00 L36.00,-17.00 L34.00,-20.00 L31.00,-21.00 L29.00,-21.00 M50.14,-32.61 L42.34,-21.69 L54.04,-21.69 M50.14,-32.61 L50.14,-16.23" stroke="#000" stroke-width="1.08" vector-effect="non-scaling-stroke" fill="none" stroke-linecap="round" stroke-linejoin="round"/></g>
<g transform="translate(409.61,298.80) scale(0.54,0.53)"><path d="M6.00,-17.00 L8.00,-18.00 L11.00,-21.00 L11.00,-0.00 M29.00,-21.00 L26.00,-20.00 L24.00,-17.00 L23.00,-12.00 L23.00,-9.00 L24.00,-4.00 L26.00,-1.00 L29.00,-0.00 L31.00,-0.00 L34.00,-1.00 L36.00,-4.00 L37.00,-9.00 L37.00,-12.00 L36.00,-17.00 L34.00,-20.00 L31.00,-21.00 L29.00,-21.00 M51.70,-32.61 L43.90,-32.61 L43.12,-25.59 L43.90,-26.37 L46.24,-27.15 L48.58,-27.15 L50.92,-26.37 L52.48,-24.81 L53.26,-22.47 L53.26,-20.91 L52.48,-18.57 L50.92,-17.01 L48.58,-16.23 L46.24,-16.23 L43.90,-17.01 L43.12,-17.79 L42.34,-19.35" stroke="#000" stroke-width="1.08" vector-effect="non-scaling-stroke" fill="none" stroke-linecap="round" stroke-linejoin="round"/></g>
<g transform="translate(221.30,321.30) scale(0.545,0.525)"><path d="M3.00,-14.00 L7.00,-14.00 L5.60,-7.00 L3.00,-0.00 M17.00,-14.00 L16.30,-11.00 L14.50,-8.00 L11.50,-5.00 L7.50,-2.00 L3.00,-0.00" stroke="#000" stroke-width="1.08" vector-effect="non-scaling-stroke" fill="none" stroke-linecap="round" stroke-linejoin="round"/></g>
<g transform="translate(239.50,321.30) scale(0.528,0.52)"><path d="M11.00,-25.00 L9.00,-23.00 L7.00,-20.00 L5.00,-16.00 L4.00,-11.00 L4.00,-7.00 L5.00,-2.00 L7.00,2.00 L9.00,5.00 L11.00,7.00 M17.00,-8.00 L29.00,-8.00 L29.00,-10.00 L28.00,-12.00 L27.00,-13.00 L25.00,-14.00 L22.00,-14.00 L20.00,-13.00 L18.00,-11.00 L17.00,-8.00 L17.00,-6.00 L18.00,-3.00 L20.00,-1.00 L22.00,-0.00 L25.00,-0.00 L27.00,-1.00 L29.00,-3.00 M33.00,-21.00 L41.00,-0.00 M49.00,-21.00 L41.00,-0.00 M53.00,-25.00 L55.00,-23.00 L57.00,-20.00 L59.00,-16.00 L60.00,-11.00 L60.00,-7.00 L59.00,-2.00 L57.00,2.00 L55.00,5.00 L53.00,7.00" stroke="#000" stroke-width="1.08" vector-effect="non-scaling-stroke" fill="none" stroke-linecap="round" stroke-linejoin="round"/></g>
<g transform="translate(49.00,57.60) rotate(-90) scale(0.53,0.545)"><path d="M6.00,-17.00 L8.00,-18.00 L11.00,-21.00 L11.00,-0.00" stroke="#000" stroke-width="1.08" vector-effect="non-scaling-stroke" fill="none" stroke-linecap="round" stroke-linejoin="round"/></g>
<g transform="translate(49.00,121.92) rotate(-90) scale(0.53,0.545)"><path d="M9.00,-21.00 L6.00,-20.00 L4.00,-17.00 L3.00,-12.00 L3.00,-9.00 L4.00,-4.00 L6.00,-1.00 L9.00,-0.00 L11.00,-0.00 L14.00,-1.00 L16.00,-4.00 L17.00,-9.00 L17.00,-12.00 L16.00,-17.00 L14.00,-20.00 L11.00,-21.00 L9.00,-21.00 M25.00,-2.00 L24.00,-1.00 L25.00,-0.00 L26.00,-1.00 L25.00,-2.00 M36.00,-17.00 L38.00,-18.00 L41.00,-21.00 L41.00,-0.00" stroke="#000" stroke-width="1.08" vector-effect="non-scaling-stroke" fill="none" stroke-linecap="round" stroke-linejoin="round"/></g>
<g transform="translate(49.00,183.60) rotate(-90) scale(0.53,0.545)"><path d="M9.00,-21.00 L6.00,-20.00 L4.00,-17.00 L3.00,-12.00 L3.00,-9.00 L4.00,-4.00 L6.00,-1.00 L9.00,-0.00 L11.00,-0.00 L14.00,-1.00 L16.00,-4.00 L17.00,-9.00 L17.00,-12.00 L16.00,-17.00 L14.00,-20.00 L11.00,-21.00 L9.00,-21.00 M25.00,-2.00 L24.00,-1.00 L25.00,-0.00 L26.00,-1.00 L25.00,-2.00 M39.00,-21.00 L36.00,-20.00 L34.00,-17.00 L33.00,-12.00 L33.00,-9.00 L34.00,-4.00 L36.00,-1.00 L39.00,-0.00 L41.00,-0.00 L44.00,-1.00 L46.00,-4.00 L47.00,-9.00 L47.00,-12.00 L46.00,-17.00 L44.00,-20.00 L41.00,-21.00 L39.00,-21.00 M56.00,-17.00 L58.00,-18.00 L61.00,-21.00 L61.00,-0.00" stroke="#000" stroke-width="1.08" vector-effect="non-scaling-stroke" fill="none" stroke-linecap="round" stroke-linejoin="round"/></g>
<g transform="translate(49.00,240.23) rotate(-90) scale(0.53,0.545)"><path d="M6.00,-17.00 L8.00,-18.00 L11.00,-21.00 L11.00,-0.00 M29.00,-21.00 L26.00,-20.00 L24.00,-17.00 L23.00,-12.00 L23.00,-9.00 L24.00,-4.00 L26.00,-1.00 L29.00,-0.00 L31.00,-0.00 L34.00,-1.00 L36.00,-4.00 L37.00,-9.00 L37.00,-12.00 L36.00,-17.00 L34.00,-20.00 L31.00,-21.00 L29.00,-21.00 M43.90,-22.80 L56.38,-22.80 M64.18,-32.16 L72.76,-32.16 L68.08,-25.92 L70.42,-25.92 L71.98,-25.14 L72.76,-24.36 L73.54,-22.02 L73.54,-20.46 L72.76,-18.12 L71.20,-16.56 L68.86,-15.78 L66.52,-15.78 L64.18,-16.56 L63.40,-17.34 L62.62,-18.90" stroke="#000" stroke-width="1.08" vector-effect="non-scaling-stroke" fill="none" stroke-linecap="round" stroke-linejoin="round"/></g>
<g transform="translate(14.30,174.15) rotate(-90) scale(0.53,0.52)"><path d="M10.00,-21.00 L8.00,-21.00 L6.00,-20.00 L5.00,-17.00 L5.00,-0.00 M2.00,-14.00 L9.00,-14.00 M14.25,2.38 L17.25,2.38 L16.20,7.63 L14.25,12.88 M24.75,2.38 L24.23,4.63 L22.88,6.88 L20.62,9.13 L17.62,11.38 L14.25,12.88 M53.35,-25.00 L51.35,-23.00 L49.35,-20.00 L47.35,-16.00 L46.35,-11.00 L46.35,-7.00 L47.35,-2.00 L49.35,2.00 L51.35,5.00 L53.35,7.00 M60.35,-14.00 L60.35,-0.00 M60.35,-10.00 L63.35,-13.00 L65.35,-14.00 L68.35,-14.00 L70.35,-13.00 L71.35,-10.00 L71.35,-0.00 M71.35,-10.00 L74.35,-13.00 L76.35,-14.00 L79.35,-14.00 L81.35,-13.00 L82.35,-10.00 L82.35,-0.00 M98.35,-21.00 L98.35,-5.00 L97.35,-2.00 L96.35,-1.00 L94.35,-0.00 L92.35,-0.00 L90.35,-1.00 L89.35,-2.00 L88.35,-5.00 L88.35,-7.00 M104.35,-14.00 L110.35,-0.00 M116.35,-14.00 L110.35,-0.00 L108.35,4.00 L106.35,6.00 L104.35,7.00 L103.35,7.00 M121.35,-25.00 L123.35,-23.00 L125.35,-20.00 L127.35,-16.00 L128.35,-11.00 L128.35,-7.00 L127.35,-2.00 L125.35,2.00 L123.35,5.00 L121.35,7.00" stroke="#000" stroke-width="1.08" vector-effect="non-scaling-stroke" fill="none" stroke-linecap="round" stroke-linejoin="round"/></g>
</svg>
</body></html>
